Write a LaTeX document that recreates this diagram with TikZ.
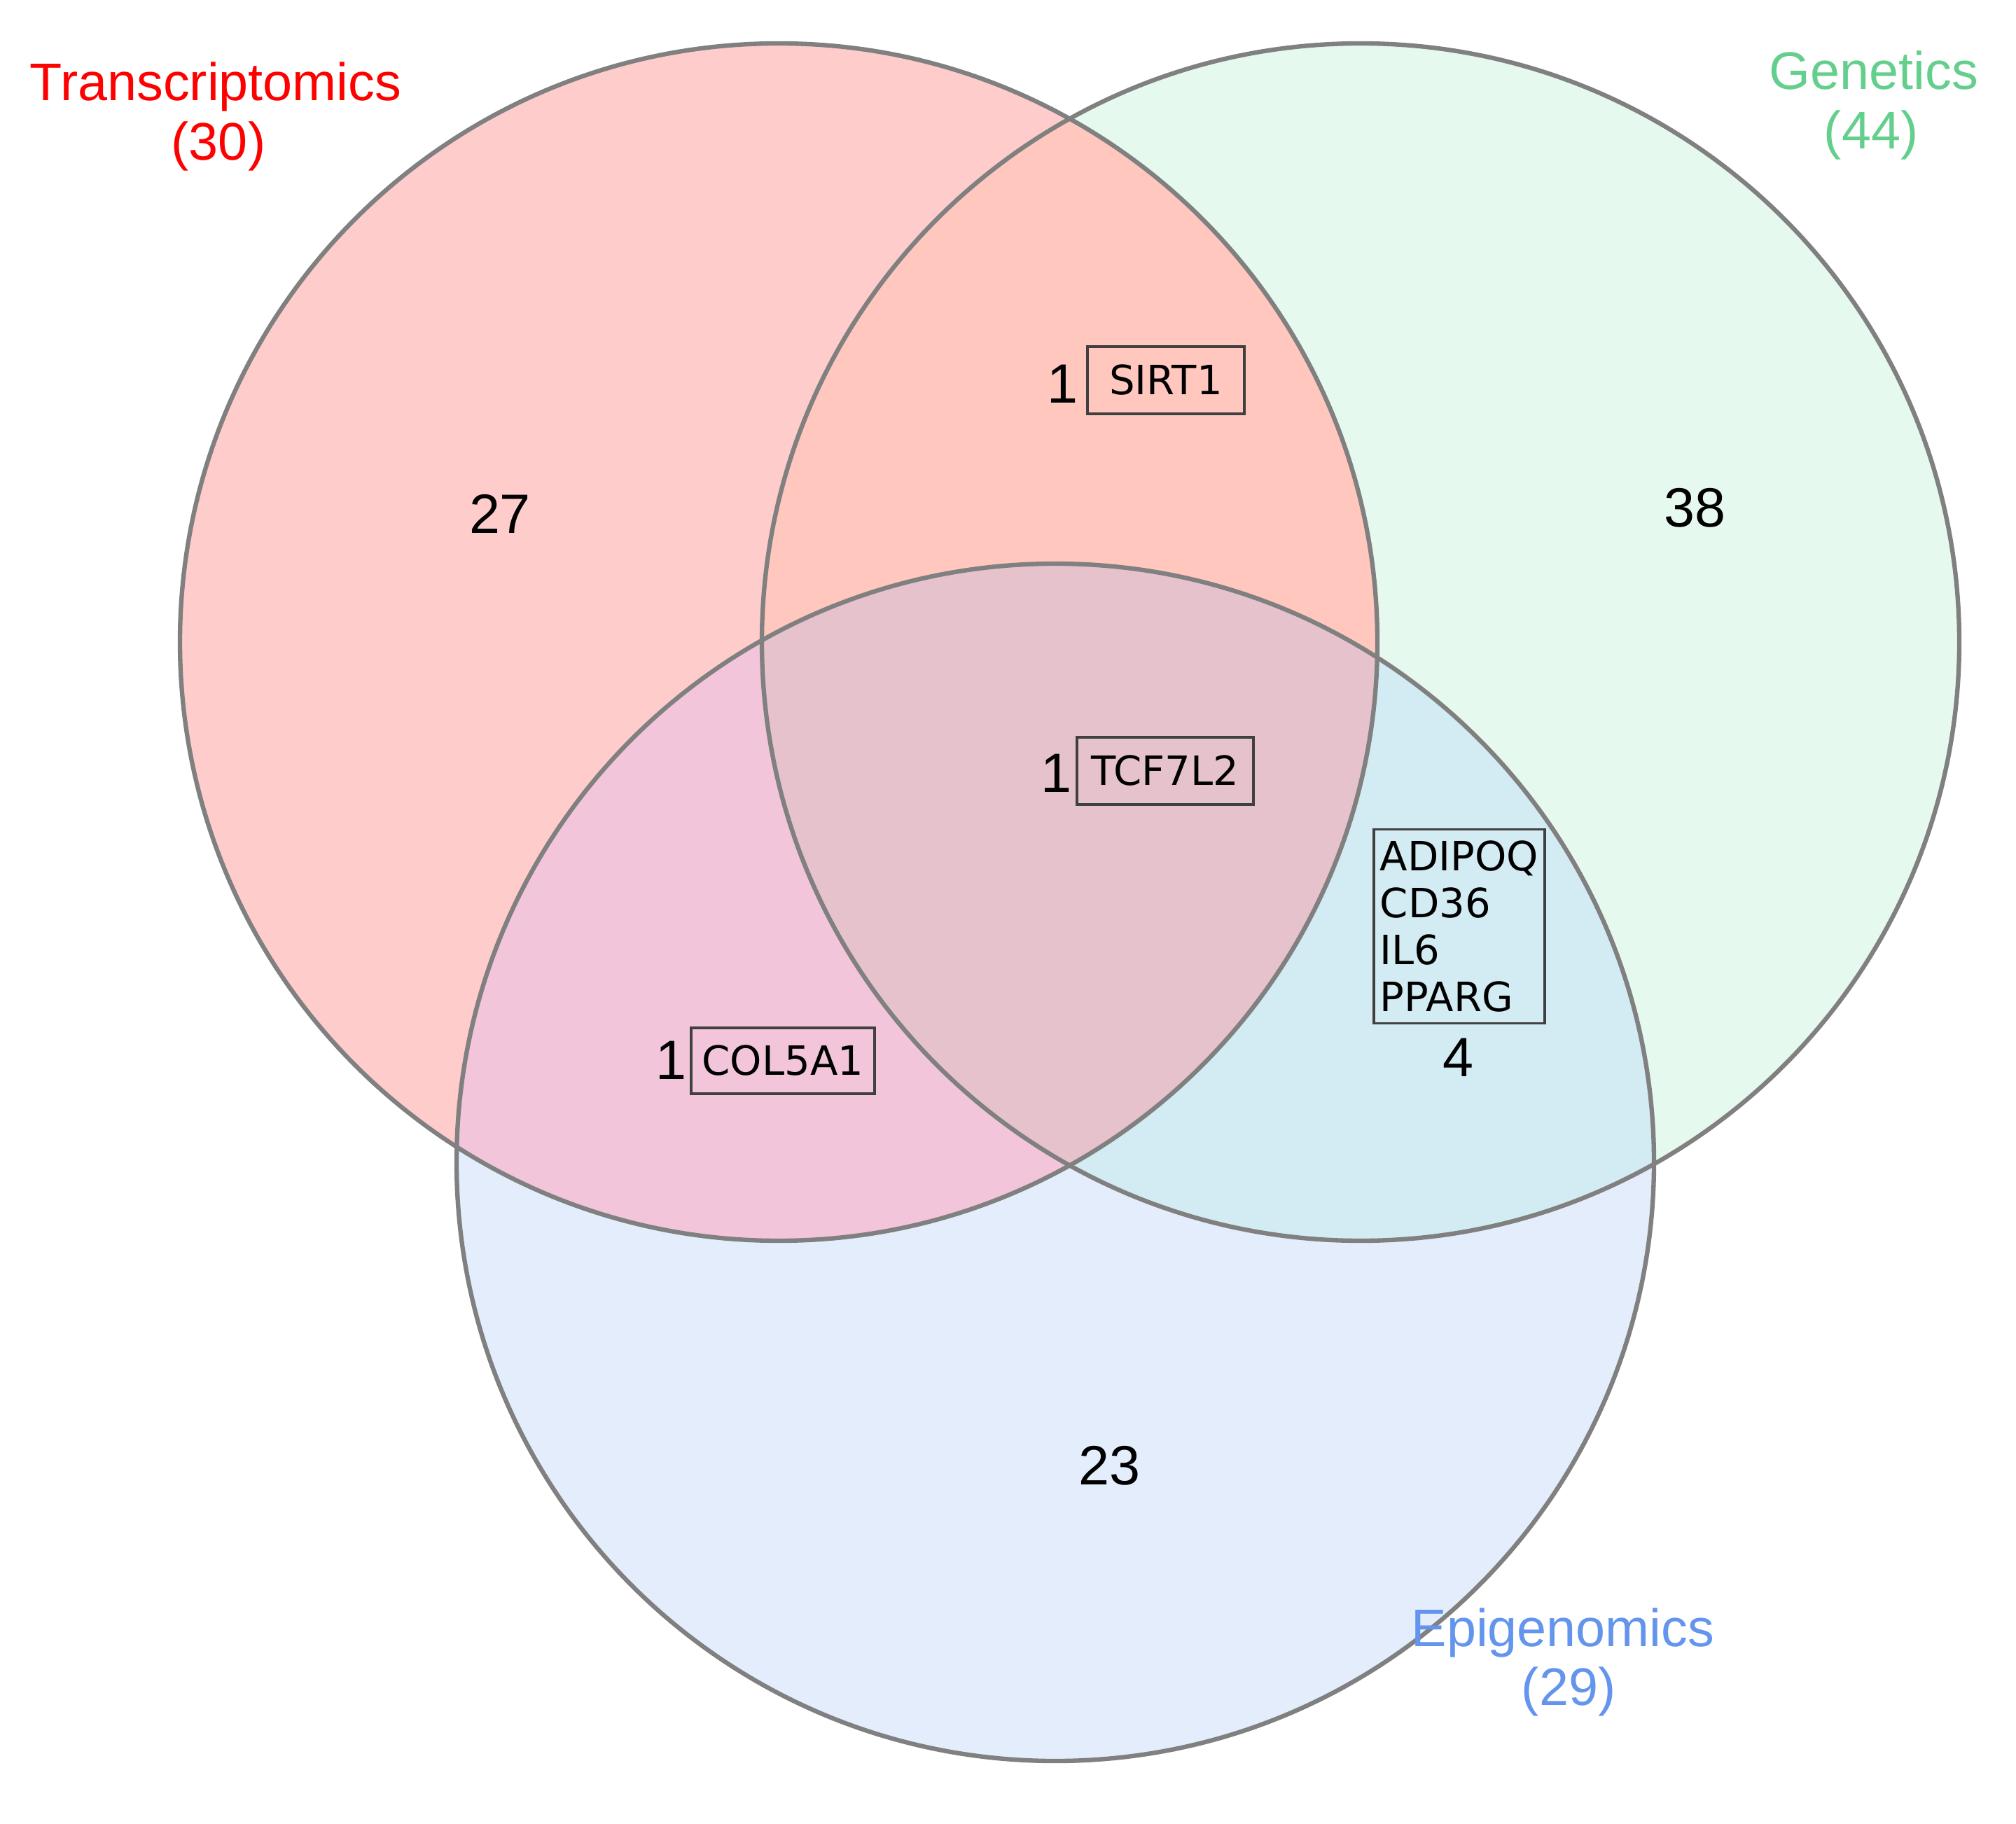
\documentclass[tikz,border=0pt]{standalone}
\usepackage{fontspec}
\setmainfont{Liberation Sans}
\newfontfamily\genefont{DejaVu Sans}
\definecolor{tonly}{HTML}{FFCCCC}
\definecolor{gonly}{HTML}{E6F9EE}
\definecolor{eonly}{HTML}{E3EDFC}
\definecolor{tgcol}{HTML}{FFC7BE}
\definecolor{tecol}{HTML}{F3C5DA}
\definecolor{gecol}{HTML}{D3EBF2}
\definecolor{allcol}{HTML}{E6C3CC}
\definecolor{tlabcol}{HTML}{FF0000}
\definecolor{glabcol}{HTML}{64CF8C}
\definecolor{elabcol}{HTML}{6495ED}

\begin{document}
\begin{tikzpicture}[ring/.style={draw=black!50,line width=1.8pt},setlab/.style={anchor=base,inner sep=0pt,font=\fontsize{21.5}{24}\selectfont},count/.style={inner sep=0pt,font=\fontsize{22.5}{26}\selectfont},gene/.style={draw=black!75,line width=0.9pt,inner sep=0pt,minimum height=0.96cm,font=\genefont\fontsize{16.4}{19}\selectfont}]
\def\rad{8.55}
\useasboundingbox (0,0) rectangle (28.79,-26.05);

\coordinate (trans) at (11.12,-9.17);
\coordinate (genet) at (19.43,-9.17);
\coordinate (epig) at (15.07,-16.60);

\fill[tonly] (trans) circle[radius=\rad];
\fill[gonly] (genet) circle[radius=\rad];
\fill[eonly] (epig) circle[radius=\rad];
\begin{scope}
\clip (genet) circle[radius=\rad];
\fill[gecol] (epig) circle[radius=\rad];
\end{scope}
\begin{scope}
\clip (trans) circle[radius=\rad];
\fill[tgcol] (genet) circle[radius=\rad];
\fill[tecol] (epig) circle[radius=\rad];
\clip (genet) circle[radius=\rad];
\fill[allcol] (epig) circle[radius=\rad];
\end{scope}

\draw[ring] (trans) circle[radius=\rad];
\draw[ring] (genet) circle[radius=\rad];
\draw[ring] (epig) circle[radius=\rad];

\node[setlab,tlabcol] (tname) at (3.08,-1.44) {Transcriptomics};
\node[setlab,tlabcol] (tsize) at (3.12,-2.29) {(30)};
\node[setlab,glabcol] (gname) at (26.76,-1.28) {Genetics};
\node[setlab,glabcol] (gsize) at (26.72,-2.13) {(44)};
\node[setlab,elabcol] (ename) at (22.32,-23.51) {Epigenomics};
\node[setlab,elabcol] (esize) at (22.40,-24.35) {(29)};

\node[count] (tcount) at (7.14,-7.34) {27};
\node[count] (gcount) at (24.20,-7.25) {38};
\node[count] (ecount) at (15.84,-20.93) {23};

\node[gene,minimum width=2.24cm] (sirt) at (16.65,-5.43) {SIRT1};
\node[count] (tgcount) at (15.17,-5.48) {1};
\node[gene,minimum width=2.52cm] (tcf) at (16.64,-11.01) {TCF7L2};
\node[count] (allcount) at (15.08,-11.04) {1};
\node[gene,minimum width=2.62cm,minimum height=0.94cm] (col) at (11.18,-15.15) {COL5A1};
\node[count] (tecount) at (9.58,-15.14) {1};
\node[gene,minimum width=2.44cm,minimum height=2.77cm,align=left] (adipo) at (20.84,-13.23) {ADIPOQ\\CD36\\IL6\\PPARG};
\node[count] (gecount) at (20.82,-15.10) {4};
\end{tikzpicture}
\end{document}
